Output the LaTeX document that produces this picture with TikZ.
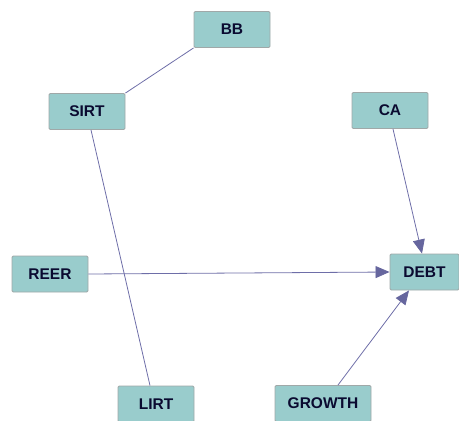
\documentclass[tikz,border=0pt]{standalone}
\usepackage{fontspec}
\setmainfont{Liberation Sans}
\usetikzlibrary{arrows.meta}
\definecolor{boxfill}{HTML}{99CCCC}
\definecolor{boxline}{HTML}{A0A8A8}
\definecolor{edgecol}{HTML}{6E6EA8}
\definecolor{headcol}{HTML}{66669E}
\definecolor{txtcol}{HTML}{0A0A30}
\begin{document}
\begin{tikzpicture}[x=1pt,y=-1pt,
  var/.style={draw=boxline, line width=0.9pt, fill=boxfill, rounded corners=1.2pt,
    minimum height=36pt, inner sep=0pt, text=txtcol,
    font=\fontsize{15.5}{17}\selectfont\bfseries},
  link/.style={draw=edgecol, line width=0.8pt},
  arr/.style={link, -{Triangle[length=14pt,width=12pt,fill=headcol,color=headcol]}}]
\useasboundingbox (0,0) rectangle (459,421);
\node[var, minimum width=76pt] (BB) at (232,29.5) {BB};
\node[var, minimum width=76pt] (SIRT) at (87,111.5) {SIRT};
\node[var, minimum width=76pt] (CA) at (390,110.5) {CA};
\node[var, minimum width=76pt] (REER) at (50,274) {REER};
\node[var, minimum width=69pt] (DEBT) at (424.5,272) {DEBT};
\node[var, minimum width=76pt] (LIRT) at (156,404) {LIRT};
\node[var, minimum width=96pt] (GROWTH) at (323,403.5) {GROWTH};
\draw[link] (BB.south west) -- (SIRT.north east);
\draw[link] ([xshift=4pt]SIRT.south) -- ([xshift=-6pt]LIRT.north);
\draw[arr] ([xshift=3pt]CA.south) -- ([xshift=-2.5pt]DEBT.north);
\draw[arr] (REER.east) -- (DEBT.west);
\draw[arr] ([xshift=15pt]GROWTH.north) -- ([xshift=-15.5pt]DEBT.south);
\end{tikzpicture}
\end{document}
